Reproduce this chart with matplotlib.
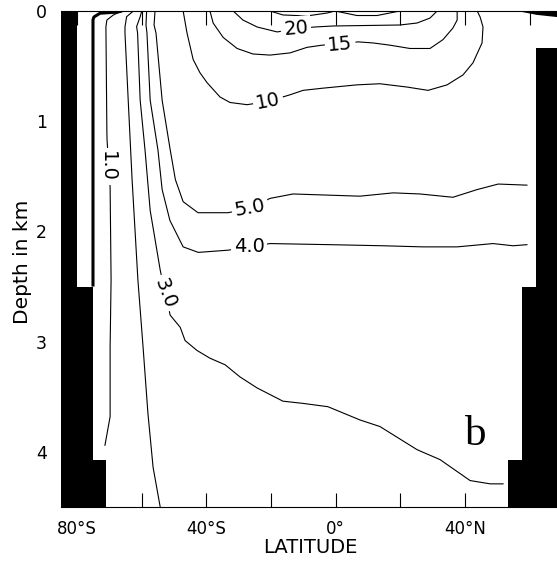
import matplotlib
matplotlib.use("Agg")
import matplotlib.pyplot as plt

# --- isotherms read off the section (latitude in deg, depth in km) ---
# thick line along the southern shelf
wall_lat = [-66.1, -67.6, -72.9, -74.8, -75.1, -75.1]
wall_dep = [0.0, 0.01, 0.02, 0.054, 0.08, 2.5]

t1_lat = [-66.2, -68.8, -70.8, -71.1, -70.8, -70.75, -69.8, -69.5, -69.8, -69.8, -71.4]
t1_dep = [0.0, 0.036, 0.082, 0.145, 1.107, 1.17, 1.60, 2.44, 3.05, 3.68, 3.94]

t2_lat = [-62.6, -64.7, -65.2, -65.2, -64.2, -63.0, -61.2, -59.6, -58.1, -56.5, -54.3]
t2_dep = [0.0, 0.052, 0.145, 0.20, 0.81, 1.53, 2.44, 3.05, 3.65, 4.14, 4.5]

t3_lat = [-60.0, -60.5, -61.6, -61.3, -60.5, -59.0, -57.4, -54.3, -52.8, -51.2, -48.1,
          -46.6, -42.9, -38.9, -34.2, -29.6, -24.3, -16.3, -10.1, -2.4, 7.5, 13.7,
          25.2, 32.3, 41.6, 47.8, 51.8]
t3_dep = [0.0, 0.052, 0.142, 0.20, 0.81, 1.26, 1.81, 2.35, 2.56, 2.76, 2.87,
          2.99, 3.08, 3.15, 3.21, 3.32, 3.42, 3.54, 3.56, 3.59, 3.71, 3.77,
          3.98, 4.07, 4.26, 4.29, 4.29]

t4_lat = [-58.5, -58.7, -58.4, -57.4, -55.0, -53.7, -51.3, -47.2, -42.5, -33.3, -26.8,
          -20.3, -1.7, 14.7, 27.0, 37.6, 48.7, 54.9, 59.2]
t4_dep = [0.0, 0.127, 0.20, 0.81, 1.26, 1.62, 1.90, 2.14, 2.19, 2.17, 2.14,
          2.11, 2.12, 2.13, 2.14, 2.14, 2.11, 2.13, 2.12]

t5_lat = [-55.9, -56.2, -55.6, -53.7, -51.2, -49.6, -47.2, -42.6, -33.3, -26.5, -20.3,
          -13.2, 7.5, 17.8, 26.1, 36.3, 43.8, 50.3, 59.2]
t5_dep = [0.0, 0.127, 0.20, 0.81, 1.26, 1.53, 1.73, 1.83, 1.83, 1.79, 1.70,
          1.66, 1.68, 1.65, 1.66, 1.69, 1.62, 1.57, 1.58]

t10_lat = [-47.2, -46.0, -44.1, -42.0, -39.8, -35.8, -32.7, -27.4, -20.9, -14.1, -10.1,
           -3.9, 6.6, 13.7, 22.1, 28.6, 34.5, 39.4, 42.5, 45.3, 45.6, 44.7, 43.8]
t10_dep = [0.0, 0.20, 0.44, 0.56, 0.65, 0.78, 0.83, 0.85, 0.82, 0.76, 0.72,
           0.70, 0.67, 0.66, 0.69, 0.72, 0.67, 0.58, 0.47, 0.29, 0.145, 0.054, 0.0]

t15_lat = [-38.9, -37.9, -34.8, -30.5, -25.6, -20.3, -14.1, -8.9, -4.2, 1.4, 6.9,
           11.6, 16.8, 23.0, 29.2, 33.2, 36.3, 37.6, 37.6]
t15_dep = [0.0, 0.11, 0.24, 0.34, 0.39, 0.40, 0.38, 0.33, 0.31, 0.30, 0.28,
           0.29, 0.31, 0.34, 0.34, 0.26, 0.154, 0.082, 0.0]

t20_lat = [-31.7, -28.7, -24.3, -18.1, -12.3, -6.4, -0.8, 19.9, 25.2, 29.2, 31.4]
t20_dep = [0.0, 0.082, 0.145, 0.19, 0.16, 0.145, 0.136, 0.127, 0.109, 0.064, 0.0]

t25_lat = [-20.3, -16.3, -8.9, -2.6, -0.2, 6.6, 12.8, 19.9]
t25_dep = [0.0, 0.036, 0.045, 0.018, 0.0, 0.041, 0.041, 0.0]

# contour labels
labels = ['1.0', '3.0', '4.0', '5.0', '10', '15', '20']
label_lat = [-70.75, -52.8, -26.8, -26.5, -20.9, 1.4, -12.3]
label_dep = [1.41, 2.56, 2.14, 1.79, 0.82, 0.30, 0.16]
label_rot = [-90, -69, 0, 10, 11, 5, 5]

# land (black) : depth bands and wall edge latitude in each band
south_dep = [0.0, 2.5, 4.07, 4.5]
south_edge = [-80.0, -75.0, -71.0]
north_dep = [0.34, 2.5, 4.07, 4.5]
north_edge = [62.0, 57.7, 53.4]
ice_lat = [56.1, 62.2, 68.5, 68.5]
ice_dep = [0.0, 0.035, 0.055, 0.0]

xticks = [-80, -40, 0, 40]
xticklabels = ['80°S', '40°S', '0°', '40°N']
xminor = [-60, -20, 20, 60]
yticks = [0, 1, 2, 3, 4]

LAT_MIN, LAT_MAX = -85, 68.5

# --- plot ---
plt.rcParams['font.family'] = ['DejaVu Sans']
fig = plt.figure(figsize=(5.57, 5.67), dpi=100)
ax = fig.add_axes([61 / 557, 60 / 567, 496 / 557, 496 / 567])

for lat, dep in [(t1_lat, t1_dep), (t2_lat, t2_dep), (t3_lat, t3_dep),
                 (t4_lat, t4_dep), (t5_lat, t5_dep), (t10_lat, t10_dep),
                 (t15_lat, t15_dep), (t20_lat, t20_dep), (t25_lat, t25_dep)]:
    ax.plot(lat, dep, color='black', lw=0.8, zorder=2)
ax.plot(wall_lat, wall_dep, color='black', lw=2.2, zorder=2, solid_capstyle='butt')

for i in range(3):
    ax.fill_betweenx(south_dep[i:i + 2], LAT_MIN, south_edge[i], color='black', lw=0, zorder=3)
    ax.fill_betweenx(north_dep[i:i + 2], north_edge[i], LAT_MAX, color='black', lw=0, zorder=3)
ax.fill(ice_lat, ice_dep, color='black', lw=0, zorder=3)

for txt, x, y, r in zip(labels, label_lat, label_dep, label_rot):
    ax.text(x, y, txt, fontsize=14, rotation=r, ha='center', va='center',
            rotation_mode='anchor', zorder=4,
            bbox=dict(boxstyle='square,pad=0.15', fc='white', ec='none'))

ax.text(40.0, 3.94, 'b', fontsize=31, family='Liberation Serif', ha='left',
        va='baseline', zorder=4)

ax.set_xlim(LAT_MIN, LAT_MAX)
ax.set_ylim(4.5, 0)
ax.set_xticks(xticks)
ax.set_xticklabels(xticklabels)
ax.set_xticks(xminor, minor=True)
ax.set_yticks(yticks)
ax.tick_params(axis='x', which='both', direction='in', length=10, width=0.8,
               top=True, bottom=True, labelsize=12, pad=9)
ax.tick_params(axis='y', length=0, labelsize=12.5, pad=10)
for s in ['left', 'right']:
    ax.spines[s].set_visible(False)
for s in ['top', 'bottom']:
    ax.spines[s].set_linewidth(0.8)

ax.set_xlabel('LATITUDE', fontsize=14)
ax.xaxis.set_label_coords(0.502, -0.062)
ax.set_ylabel('Depth in km', fontsize=14.5)
ax.yaxis.set_label_coords(-0.058, 0.494)

fig.savefig('out.png', dpi=100, facecolor='white')
